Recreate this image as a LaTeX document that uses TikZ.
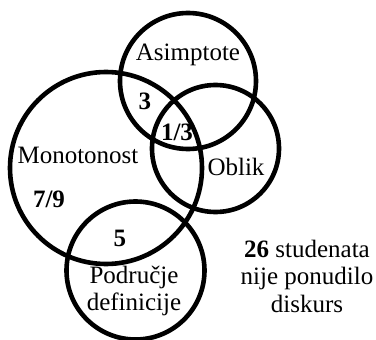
\documentclass[tikz,border=0pt]{standalone}
\usepackage{fontspec}
\setmainfont{Liberation Serif}
\begin{document}
\begin{tikzpicture}[x=1pt,y=-1pt,
  ring/.style={draw=black,line width=4.6pt,circle,inner sep=0pt,minimum size=#1},
  lbl/.style={inner sep=0pt,font=\fontsize{25}{27.5}\selectfont,align=center},
  num/.style={inner sep=0pt,font=\fontsize{25}{27}\selectfont\bfseries}]
\useasboundingbox (0,0) rectangle (376,340);
\node[ring=136pt] (asim) at (188,81) {};
\node[ring=192pt] (mono) at (106,168) {};
\node[ring=127pt] (obl) at (215.5,148.5) {};
\node[ring=138pt] (podr) at (135.5,270.5) {};
\node[lbl] (tA) at (188,55) {Asimptote};
\node[lbl] (tM) at (78,155) {Monotonost};
\node[lbl] (tO) at (236,167) {Oblik};
\node[lbl] (tP) at (134,291) {Područje\\definicije};
\node[num] (n3) at (145,101) {3};
\node[num] (n13) at (177,132) {1/3};
\node[num] (n79) at (49,199) {7/9};
\node[num] (n5) at (120,238) {5};
\node[lbl] (t26) at (307,276) {\textbf{26} studenata\\nije ponudilo\\diskurs};
\end{tikzpicture}
\end{document}
